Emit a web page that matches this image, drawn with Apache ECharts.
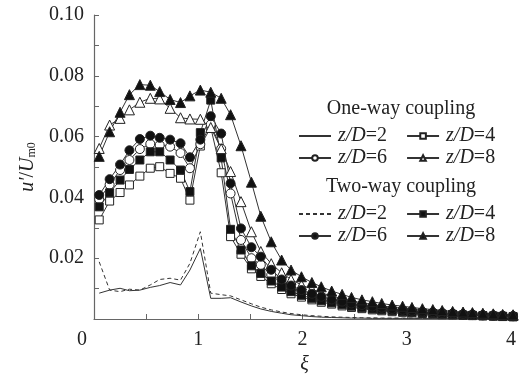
<!DOCTYPE html>
<html>
<head>
<meta charset="utf-8">
<script src="https://cdn.jsdelivr.net/npm/echarts@6/dist/echarts.min.js"></script>
<style>html,body{margin:0;padding:0;background:#fff}#c{width:519px;height:380px}</style>
</head>
<body>
<div id="c"></div>
<script>
// xi positions of the samples
const xi = [0.05,0.15,0.25,0.34,0.44,0.54,0.63,0.73,0.83,0.92,1.02,1.12,1.22,1.31,1.41,1.51,1.60,1.70,1.80,1.89,1.99,2.09,2.18,2.28,2.38,2.47,2.57,2.67,2.76,2.86,2.96,3.05,3.15,3.25,3.34,3.44,3.54,3.63,3.73,3.83,3.92,4.02];
const xTicks = [0,1,2,3,4];
const yTicks = [0.02,0.04,0.06,0.08,0.10];

// One-way coupling
const oneWay2 = [0.0085,0.0095,0.0101,0.0093,0.0095,0.0104,0.0110,0.0120,0.0112,0.0161,0.0232,0.0068,0.0068,0.0070,0.0056,0.0043,0.0033,0.0025,0.0019,0.0014,0.0011,0.0008,0.0006,0.0005,0.0004,0.0003,0.0003,0.0002,0.0002,0.0002,0.0002,0.0002,0.0002,0.0002,0.0002,0.0002,0.0002,0.0002,0.0002,0.0002,0.0002,0.0002];
const oneWay4 = [0.0326,0.0388,0.0416,0.0441,0.0470,0.0496,0.0501,0.0479,0.0463,0.0391,0.0569,0.0630,0.0481,0.0271,0.0213,0.0165,0.0140,0.0116,0.0097,0.0083,0.0072,0.0063,0.0055,0.0049,0.0043,0.0038,0.0034,0.0030,0.0027,0.0024,0.0022,0.0020,0.0018,0.0016,0.0014,0.0013,0.0012,0.0011,0.0010,0.0009,0.0008,0.0007];
const oneWay6 = [0.0394,0.0442,0.0490,0.0523,0.0559,0.0576,0.0572,0.0567,0.0546,0.0496,0.0575,0.0640,0.0560,0.0413,0.0260,0.0200,0.0178,0.0145,0.0118,0.0100,0.0086,0.0075,0.0066,0.0058,0.0052,0.0046,0.0041,0.0037,0.0033,0.0030,0.0027,0.0024,0.0022,0.0020,0.0018,0.0016,0.0015,0.0013,0.0012,0.0011,0.0010,0.0009];
const oneWay8 = [0.0561,0.0638,0.0660,0.0688,0.0713,0.0726,0.0724,0.0693,0.0662,0.0658,0.0657,0.0630,0.0560,0.0485,0.0386,0.0287,0.0222,0.0182,0.0152,0.0130,0.0112,0.0098,0.0086,0.0076,0.0067,0.0060,0.0053,0.0048,0.0043,0.0039,0.0035,0.0032,0.0029,0.0026,0.0024,0.0022,0.0020,0.0018,0.0016,0.0015,0.0013,0.0012];
// Two-way coupling
const twoWay2 = [0.0188,0.0095,0.0090,0.0098,0.0095,0.0112,0.0130,0.0134,0.0128,0.0183,0.0287,0.0085,0.0080,0.0076,0.0063,0.0050,0.0039,0.0030,0.0023,0.0018,0.0014,0.0011,0.0009,0.0007,0.0006,0.0005,0.0004,0.0004,0.0003,0.0003,0.0003,0.0003,0.0003,0.0003,0.0003,0.0003,0.0003,0.0003,0.0003,0.0003,0.0003,0.0003];
const twoWay4 = [0.0369,0.0415,0.0457,0.0492,0.0523,0.0550,0.0550,0.0523,0.0490,0.0419,0.0613,0.0720,0.0530,0.0295,0.0227,0.0175,0.0150,0.0125,0.0105,0.0090,0.0078,0.0068,0.0060,0.0053,0.0047,0.0042,0.0037,0.0033,0.0030,0.0027,0.0024,0.0022,0.0020,0.0018,0.0016,0.0015,0.0013,0.0012,0.0011,0.0010,0.0009,0.0008];
const twoWay6 = [0.0408,0.0460,0.0508,0.0555,0.0592,0.0603,0.0596,0.0590,0.0578,0.0532,0.0590,0.0667,0.0610,0.0446,0.0298,0.0236,0.0205,0.0162,0.0130,0.0110,0.0095,0.0083,0.0073,0.0064,0.0057,0.0051,0.0046,0.0041,0.0037,0.0033,0.0030,0.0027,0.0024,0.0022,0.0020,0.0018,0.0016,0.0015,0.0013,0.0012,0.0011,0.0010];
const twoWay8 = [0.0535,0.0616,0.0680,0.0738,0.0771,0.0769,0.0748,0.0722,0.0712,0.0734,0.0753,0.0746,0.0726,0.0672,0.0570,0.0450,0.0338,0.0254,0.0194,0.0161,0.0139,0.0120,0.0106,0.0092,0.0081,0.0071,0.0063,0.0057,0.0051,0.0046,0.0042,0.0038,0.0034,0.0031,0.0028,0.0025,0.0023,0.0021,0.0019,0.0017,0.0015,0.0014];

const FONT = 'Liberation Serif';
const pts = v => xi.map((x, i) => [x, v[i]]);

function mk(name, vals, symbol, filled, size, dashed) {
  return {
    name, type: 'line', data: pts(vals),
    symbol: symbol, symbolSize: size, showSymbol: symbol !== 'none',
    lineStyle: { color: '#333', width: 1, type: dashed ? [4, 3] : 'solid' },
    itemStyle: { color: filled ? '#111' : '#fff', borderColor: '#222', borderWidth: 1 },
    emphasis: { disabled: true },
    animation: false
  };
}

const series = [
  mk('O2', oneWay2, 'none', false, 0, false),
  mk('O4', oneWay4, 'rect', false, 8, false),
  mk('O6', oneWay6, 'circle', false, 9, false),
  mk('O8', oneWay8, 'triangle', false, 10, false),
  mk('T2', twoWay2, 'none', false, 0, true),
  mk('T4', twoWay4, 'rect', true, 8, false),
  mk('T6', twoWay6, 'circle', true, 9, false),
  mk('T8', twoWay8, 'triangle', true, 10, false)
];

const legRich = { i: { fontStyle: 'italic', fontFamily: FONT, fontSize: 20, color: '#222' }, n: { fontFamily: FONT, fontSize: 20, color: '#222' } };
function leg(data, top) {
  return {
    data: data.map(n => (n.endsWith('2') ? { name: n, itemStyle: { opacity: 0, borderWidth: 0 } } : { name: n })),
    left: 298, top, padding: 0, itemWidth: 32, itemHeight: 7, itemGap: 19,
    selectedMode: false,
    formatter: n => '{i|z/D}{n|=' + n.slice(1) + '}',
    textStyle: { fontFamily: FONT, fontSize: 20, color: '#222', padding: [0, 0, 0, 2], rich: legRich }
  };
}

const option = {
  backgroundColor: '#fff',
  animation: false,
  grid: { left: 94, right: 1, top: 15, bottom: 61 },
  xAxis: {
    type: 'value', min: 0, max: 4.04, interval: 0.5,
    name: 'ξ', nameLocation: 'middle', nameGap: 30,
    nameTextStyle: { fontFamily: FONT, fontSize: 20, fontStyle: 'italic', color: '#222' },
    axisLine: { show: true, lineStyle: { color: '#666', width: 1.2 } },
    axisTick: { show: true, inside: true, length: 5, lineStyle: { color: '#666' } },
    axisLabel: {
      fontFamily: FONT, fontSize: 20, color: '#222', margin: 11,
      formatter: v => (xTicks.indexOf(v) > 0 ? String(v) : '')
    },
    splitLine: { show: false }
  },
  yAxis: {
    type: 'value', min: 0, max: 0.10, interval: 0.02,
    name: '{i|u′}/{i|U}{s|m0}', nameLocation: 'middle', nameGap: 52,
    nameTextStyle: {
      fontFamily: FONT, fontSize: 20, color: '#222',
      rich: {
        i: { fontStyle: 'italic', fontFamily: FONT, fontSize: 20, color: '#222' },
        s: { fontFamily: FONT, fontSize: 12, color: '#222', verticalAlign: 'bottom', padding: [8, 0, 0, 0] }
      }
    },
    axisLine: { show: true, lineStyle: { color: '#666', width: 1.2 } },
    axisTick: { show: true, inside: true, length: 5, lineStyle: { color: '#666' } },
    minorTick: { show: true, splitNumber: 2, length: 5, lineStyle: { color: '#666' } },
    axisLabel: {
      fontFamily: FONT, fontSize: 20, color: '#222', margin: 10,
      formatter: v => { const t = yTicks.find(y => Math.abs(y - v) < 1e-9); return t ? t.toFixed(2) : ''; }
    },
    splitLine: { show: false }
  },
  legend: [
    leg(['O2', 'O4'], 126),
    leg(['O6', 'O8'], 148),
    leg(['T2', 'T4'], 204),
    leg(['T6', 'T8'], 226)
  ],
  graphic: [
    { type: 'text', x: 401, y: 109, style: { text: 'One-way coupling', font: '20px "Liberation Serif"', fill: '#222', align: 'center', verticalAlign: 'middle' } },
    { type: 'text', x: 401, y: 187, style: { text: 'Two-way coupling', font: '20px "Liberation Serif"', fill: '#222', align: 'center', verticalAlign: 'middle' } },
    { type: 'text', x: 82, y: 340, style: { text: '0', font: '20px "Liberation Serif"', fill: '#222', align: 'center', verticalAlign: 'middle' } }
  ],
  series
};

const chart = echarts.init(document.getElementById('c'), null, { renderer: 'canvas' });
chart.setOption(option);
</script>
</body>
</html>
